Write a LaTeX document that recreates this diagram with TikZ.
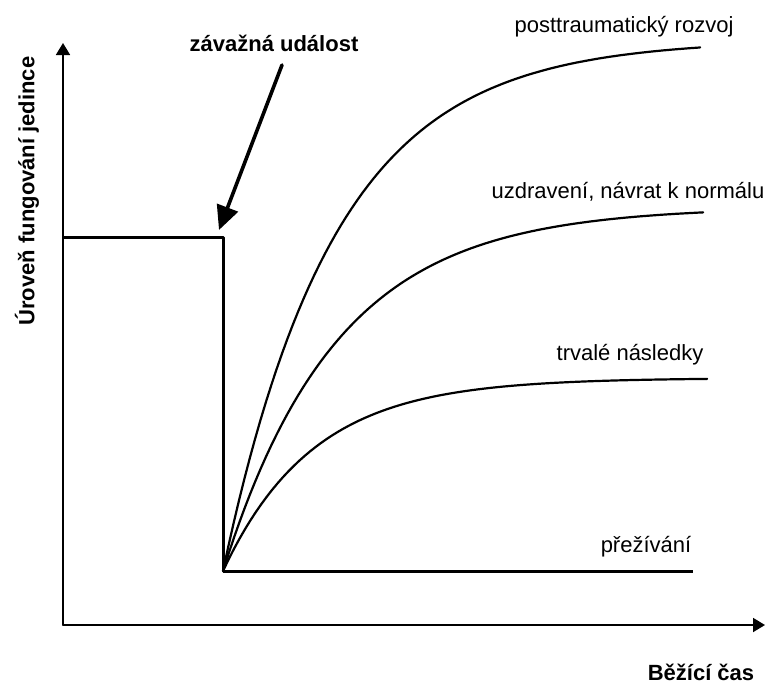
\documentclass[tikz,border=0pt]{standalone}
\usepackage{fontspec}
\setmainfont{Liberation Sans}
\usetikzlibrary{arrows.meta}

\begin{document}
\begin{tikzpicture}[
  x=0.5pt,
  y=-0.5pt,
  line join=round,
  line cap=round,
  axis/.style={draw=black,line width=0.9pt,-{Triangle[length=6pt,width=7pt]}},
  level/.style={draw=black,line width=1.5pt,line cap=butt},
  course/.style={draw=black,line width=1.1pt},
  event/.style={draw=black,line width=1.8pt,-{Triangle[length=12pt,width=11pt]}},
  lbl/.style={font=\fontsize{11}{13}\selectfont,inner sep=0pt},
  blbl/.style={font=\fontsize{11}{13}\selectfont\bfseries,inner sep=0pt}
]
  \useasboundingbox (0,0) rectangle (765,686);

  % Axes.
  \coordinate (O) at (63,625);
  \coordinate (yTop) at (63,43);
  \coordinate (xEnd) at (765,625);
  \draw[axis] (O) -- (yTop);
  \draw[axis] (O) -- (xEnd);
  \node[blbl,rotate=90] (ylab) at (27,191) {Úroveň fungování jedince};
  \node[blbl] (xlab) at (701,672) {Běžící čas};

  % Level before the event and the drop.
  \coordinate (lvl) at (63,237);
  \coordinate (evTop) at (223,237);
  \coordinate (drop) at (223,571);
  \draw[level] (lvl) -- (evTop) -- (drop);

  % The event arrow.
  \node[blbl] (event) at (274,43) {závažná událost};
  \coordinate (evStart) at (282,65);
  \coordinate (evTip) at (219,230);
  \draw[event] (evStart) -- (evTip);

  % Curve end points.
  \coordinate (endP) at (700,47.5);
  \coordinate (endU) at (703,212.3);
  \coordinate (endT) at (707,379);
  \coordinate (endS) at (693,571);

  % Possible courses after the event: y = drop - A(1 - exp(-t/tau)).
  \draw[course] (drop) -- plot[domain=223:700,samples=90]
    (\x,{571-531*(1-exp(-(\x-223)/112))}) -- (endP);
  \draw[course] (drop) -- plot[domain=223:703,samples=90]
    (\x,{571-364*(1-exp(-(\x-223)/114))}) -- (endU);
  \draw[course] (drop) -- plot[domain=223:707,samples=90]
    (\x,{571-193*(1-exp(-(\x-223)/90))}) -- (endT);
  \draw[level] (drop) -- (endS);

  % Course labels.
  \node[lbl] (post) at (624,27) {posttraumatický rozvoj};
  \node[lbl] (recov) at (628,192) {uzdravení, návrat k normálu};
  \node[lbl] (perm) at (630,355) {trvalé následky};
  \node[lbl] (surv) at (646,547) {přežívání};
\end{tikzpicture}
\end{document}
